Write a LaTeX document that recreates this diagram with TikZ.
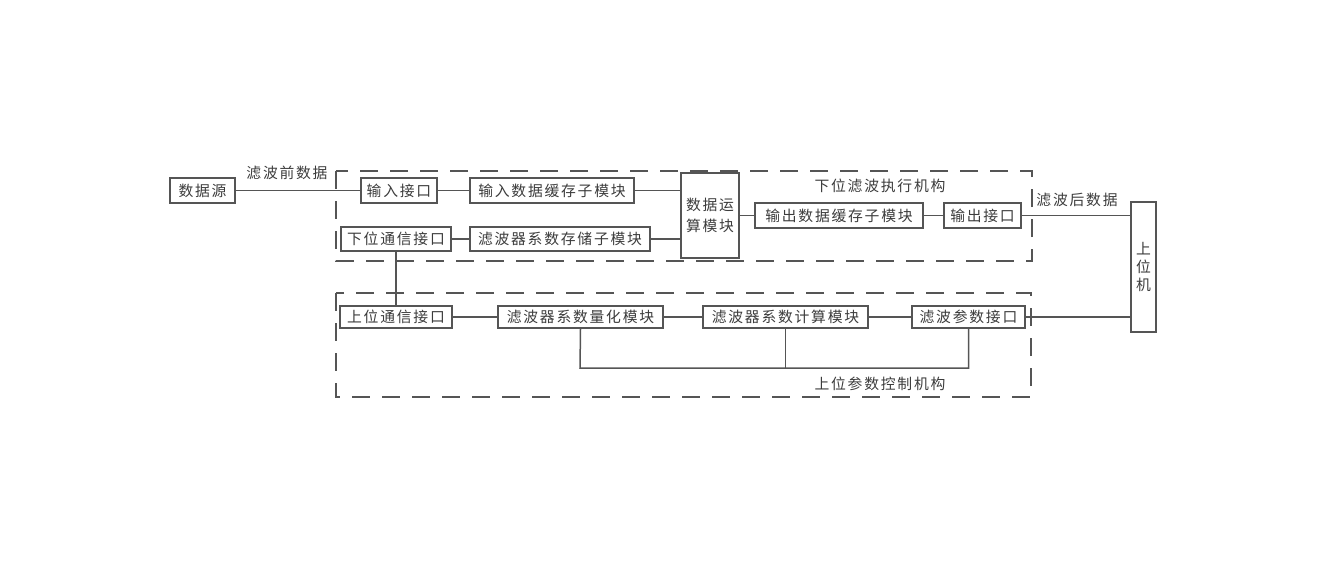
\documentclass[tikz,border=0pt]{standalone}
\usepackage{fontspec}
\usepackage{xcolor}
\usepackage{tikz}
\usetikzlibrary{calc,positioning}
\newfontfamily\cjk[LetterSpace=12]{Noto Sans CJK SC}
\definecolor{linex}{HTML}{555555}
\definecolor{textx}{HTML}{3C3C3C}
\tikzset{
  box/.style={draw=linex,line width=0.75pt,fill=white,inner sep=0pt,minimum height=12.5pt,align=center,font=\cjk\fontsize{7.4}{9}\selectfont,text=textx},
  lab/.style={font=\cjk\fontsize{7.4}{9}\selectfont,text=textx,inner sep=0pt},
  ln/.style={draw=linex,line width=0.75pt},
  grp/.style={draw=linex,line width=0.75pt,dash pattern=on 9pt off 6pt}
}
\begin{document}
\begin{tikzpicture}[x=0.5pt,y=-0.5pt]
\useasboundingbox (0,0) rectangle (1332,562);
\draw[grp] (336,171) rectangle (1032,261);
\draw[grp] (336,293) rectangle (1031,397);
\node[box,minimum width=32.5pt] (src) at (202.5,190.5) {数据源};
\node[box,minimum width=38pt] (inif) at (399,190.5) {输入接口};
\node[box,minimum width=82pt] (inbuf) at (552,190.5) {输入数据缓存子模块};
\node[box,minimum width=29pt,minimum height=42.5pt] (calc) at (710,215.5) {数据运\\[1.5pt]算模块};
\node[box,minimum width=84pt] (outbuf) at (839,215.5) {输出数据缓存子模块};
\node[box,minimum width=38.5pt] (outif) at (982.5,215.5) {输出接口};
\node[box,minimum width=55pt,minimum height=12pt] (lowcom) at (396,239) {下位通信接口};
\node[box,minimum width=90pt,minimum height=12pt] (coefmem) at (560,239) {滤波器系数存储子模块};
\node[box,minimum width=12.5pt,minimum height=65pt] (host) at (1143.5,267) {上\\位\\机};
\node[box,minimum width=56pt,minimum height=11pt] (upcom) at (396,317) {上位通信接口};
\node[box,minimum width=82.5pt,minimum height=11pt] (quant) at (580.5,317) {滤波器系数量化模块};
\node[box,minimum width=82.5pt,minimum height=11pt] (coefcalc) at (785.5,317) {滤波器系数计算模块};
\node[box,minimum width=56.5pt,minimum height=11pt] (parif) at (968.5,317) {滤波参数接口};
\node[lab] (prelab) at (287,173) {滤波前数据};
\node[lab] (postlab) at (1077,200) {滤波后数据};
\node[lab] (lowlab) at (880,186) {下位滤波执行机构};
\node[lab] (uplab) at (880,384) {上位参数控制机构};
\coordinate (bus) at (580,368);
\draw[ln] (src) -- (inif);
\draw[ln] (inif) -- (inbuf);
\draw[ln] (inbuf.east) -- (inbuf.east -| calc.west);
\draw[ln] (lowcom) -- (coefmem);
\draw[ln] (coefmem.east) -- (coefmem.east -| calc.west);
\draw[ln] (calc.east |- outbuf.west) -- (outbuf.west);
\draw[ln] (outbuf) -- (outif);
\draw[ln] (outif.east) -- (outif.east -| host.west);
\draw[ln] (lowcom) -- (upcom);
\draw[ln] (upcom) -- (quant);
\draw[ln] (quant) -- (coefcalc);
\draw[ln] (coefcalc) -- (parif);
\draw[ln] (parif.east) -- (parif.east -| host.west);
\draw[ln] (quant.south) -- (bus) -| (parif.south);
\draw[ln] (coefcalc.south) -- (coefcalc.south |- bus);
\end{tikzpicture}
\end{document}
